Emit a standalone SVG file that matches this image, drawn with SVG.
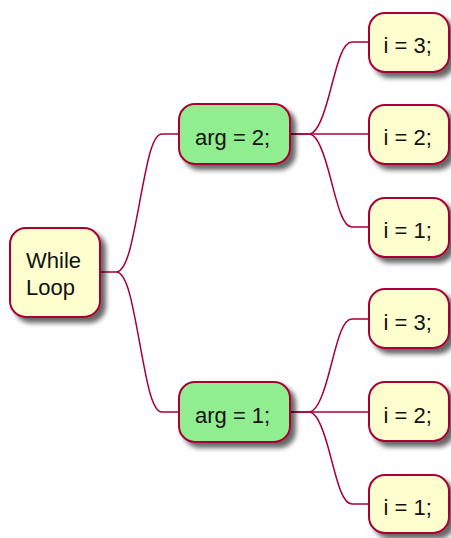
<svg xmlns="http://www.w3.org/2000/svg" width="451" height="538" viewBox="0 0 451 538">
<defs>
<filter id="sh" x="-20%" y="-20%" width="150%" height="150%">
<feGaussianBlur in="SourceAlpha" stdDeviation="2.5"/>
<feOffset dx="5" dy="5" result="b"/>
<feComponentTransfer><feFuncA type="linear" slope="0.6"/></feComponentTransfer>
<feMerge><feMergeNode/><feMergeNode in="SourceGraphic"/></feMerge>
</filter>
<style>
.n rect{stroke:#A80036;stroke-width:2;filter:url(#sh)}
.y rect{fill:#FEFECE}
.g rect{fill:#90EE90}
text{font-family:"Liberation Sans",Arial,sans-serif;font-size:22px;fill:#111}
#connectors path{fill:none;stroke:#A80036;stroke-width:1.5}
</style>
</defs>
<rect width="451" height="538" fill="#fff"/>
<g id="connectors">
<path d="M100,272 L117,272 C127,270 132,243 139.5,203 S152,134 162,134 L179,134"/>
<path d="M117,272 C127,274 132,301 139.5,342 S152,412 162,412 L179,412"/>
<path d="M290,134 L310,134 C318,132 324,115 331,88 S343,42 352,42 L369,42"/>
<path d="M290,134 L369,134"/>
<path d="M310,134 C318,136 324,153 331,180 S343,227 352,227 L369,227"/>
<path d="M290,412 L310,412 C318,410 324,393 331,365.5 S343,319 352,319 L369,319"/>
<path d="M290,412 L369,412"/>
<path d="M310,412 C318,414 324,431 331,458 S343,504 352,504 L369,504"/>
</g>
<g id="root" class="n y"><rect x="10" y="228" width="90" height="89" rx="16"/><text x="26" y="268">While</text><text x="26" y="294.5">Loop</text></g>
<g id="arg2" class="n g"><rect x="179" y="104" width="111" height="60" rx="16"/><text x="195" y="145">arg = 2;</text></g>
<g id="arg1" class="n g"><rect x="179" y="382" width="111" height="60" rx="16"/><text x="195" y="423">arg = 1;</text></g>
<g id="a2i3" class="n y"><rect x="369" y="13" width="80" height="59" rx="16"/><text x="383.5" y="53">i = 3;</text></g>
<g id="a2i2" class="n y"><rect x="369" y="105" width="80" height="59" rx="16"/><text x="383.5" y="145">i = 2;</text></g>
<g id="a2i1" class="n y"><rect x="369" y="198" width="80" height="59" rx="16"/><text x="383.5" y="238">i = 1;</text></g>
<g id="a1i3" class="n y"><rect x="369" y="289" width="80" height="59" rx="16"/><text x="383.5" y="329.5">i = 3;</text></g>
<g id="a1i2" class="n y"><rect x="369" y="382" width="80" height="59" rx="16"/><text x="383.5" y="422.5">i = 2;</text></g>
<g id="a1i1" class="n y"><rect x="369" y="475" width="80" height="58" rx="16"/><text x="383.5" y="515">i = 1;</text></g>
</svg>
